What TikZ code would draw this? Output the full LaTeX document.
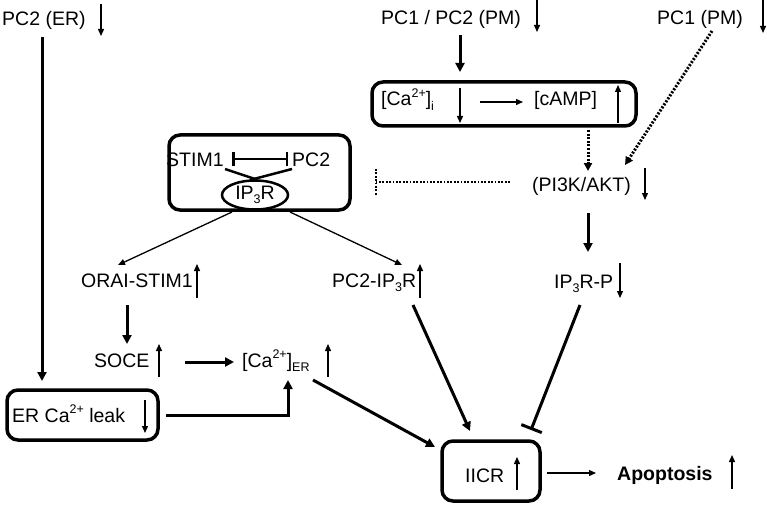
\documentclass[tikz,border=0pt]{standalone}
\usepackage{fontspec}
\setmainfont{Liberation Sans}
\usetikzlibrary{arrows.meta,shapes.geometric,calc}
\newcommand{\mysub}[1]{\raisebox{-0.22em}{\fontsize{12.5}{13}\selectfont #1}}
\newcommand{\mysup}[1]{\raisebox{0.42em}{\fontsize{12.5}{13}\selectfont #1}}
\begin{document}
\begin{tikzpicture}[x=1pt,y=-1pt,
 txt/.style={inner sep=0pt, anchor=base west, font=\fontsize{19.5}{23}\selectfont},
 thn/.style={line width=1.3pt,-{Triangle[length=7pt,width=6pt]}},
 thk/.style={line width=3pt,-{Triangle[length=9pt,width=9pt]}},
 ind/.style={line width=1.3pt,-{Triangle[length=7pt,width=6pt]}},
 rbox/.style={draw,line width=3.5pt,rounded corners=11pt,inner sep=0pt},
 dots/.style={line width=3pt,dash pattern=on 2pt off 1.6pt},
]
\useasboundingbox (0,0) rectangle (767,505);

% boxes
\node[rbox, minimum width=264pt, minimum height=44pt] (cabox) at (504,104) {};
\node[rbox, minimum width=181pt, minimum height=75pt] (stimbox) at (259.5,172.5) {};
\node[rbox, minimum width=151pt, minimum height=50pt] (erleak) at (82.5,415) {};
\node[rbox, minimum width=98pt, minimum height=60pt] (iicrbox) at (491,471) {};

% texts
\node[txt] (pc2er) at (2,26) {PC2 (ER)};
\node[txt] (pc1pc2) at (381,25) {PC1 / PC2 (PM)};
\node[txt] (pc1) at (657,25) {PC1 (PM)};
\node[txt] (cai) at (381,106) {[Ca\mysup{2+}]\mysub{i}};
\node[txt] (camp) at (534,106) {[cAMP]};
\node[txt] (stim1) at (166,167) {STIM1};
\node[txt] (pc2) at (292,167) {PC2};
\node[draw, ellipse, line width=2.5pt, minimum width=66pt, minimum height=29pt, inner sep=0pt,
      font=\fontsize{19.5}{23}\selectfont] (ip3r) at (255,195) {IP\mysub{3}R};
\node[txt] (pi3k) at (532,191) {(PI3K/AKT)};
\node[txt] (orai) at (81,287) {ORAI-STIM1};
\node[txt] (pc2ip3r) at (332,287) {PC2-IP\mysub{3}R};
\node[txt] (ip3rp) at (554,288) {IP\mysub{3}R-P};
\node[txt] (soce) at (94,367) {SOCE};
\node[txt] (caer) at (242,367) {[Ca\mysup{2+}]\mysub{ER}};
\node[txt] (leak) at (12,422) {ER Ca\mysup{2+} leak};
\node[txt] (iicr) at (465,482) {IICR};
\node[txt, font=\fontsize{19.5}{23}\selectfont\bfseries] (apop) at (617,480) {Apoptosis};

% indicator arrows
\draw[ind] (101,4) -- (101,36);
\draw[ind] (537,0) -- (537,32);
\draw[ind] (763,0) -- (763,33);
\draw[ind] (460,88) -- (460,123);
\draw[ind] (618,123) -- (618,85);
\draw[ind] (645,168) -- (645,200);
\draw[ind] (197,298) -- (197,264);
\draw[ind] (420,298) -- (420,264);
\draw[ind] (620,263) -- (620,298);
\draw[ind] (159,377) -- (159,344);
\draw[ind] (328,377) -- (328,344);
\draw[ind] (145,400) -- (145,433);
\draw[ind] (517,490) -- (517,457);
\draw[ind] (732,489) -- (732,455);

% coordinates for connector ends
\coordinate (a1) at (42,37);
\coordinate (a1e) at (42,381);
\coordinate (a2) at (460,35);
\coordinate (a2e) at (460,72);
\coordinate (a3) at (480,102);
\coordinate (a4) at (523,102);
\coordinate (d1s) at (588,130);
\coordinate (d1e) at (588,171);
\coordinate (d2s) at (712,31);
\coordinate (d2e) at (625,165);
\coordinate (inhs) at (510,182);
\coordinate (inhe) at (376,182);
\coordinate (inht) at (376,169);
\coordinate (inhb) at (376,195);
\coordinate (b1) at (588,213);
\coordinate (b2) at (588,252);
\coordinate (s1) at (232,212);
\coordinate (s2) at (118,265);
\coordinate (s3) at (290,212);
\coordinate (s4) at (402,265);
\coordinate (o1) at (127,305);
\coordinate (o2) at (127,344);
\coordinate (e1) at (185,362);
\coordinate (e2) at (234,362);
\coordinate (l1) at (166,415);
\coordinate (l2) at (288,415);
\coordinate (l3) at (288,380);
\coordinate (c1) at (313,380);
\coordinate (c2) at (435,447);
\coordinate (p1) at (413,305);
\coordinate (p2) at (470,431);
\coordinate (r1) at (580,305);
\coordinate (r2) at (531,430);
\coordinate (x1) at (547,473);
\coordinate (x2) at (596,473);
\coordinate (t1) at (225,169);
\coordinate (t2) at (258,180);
\coordinate (t3) at (292,169);
\coordinate (t4) at (250,180);
\coordinate (h1) at (232,159);
\coordinate (h2) at (288,159);

% connectors
\draw[thk] (a1) -- (a1e);
\draw[thk] (a2) -- (a2e);
\draw[thn] (a3) -- (a4);
\draw[dots,-{Triangle[length=8pt,width=8pt]}] (d1s) -- (d1e);
\draw[dots,-{Triangle[length=8pt,width=8pt]}] (d2s) -- (d2e);
\draw[line width=2.5pt,dash pattern=on 1.8pt off 1.6pt] (inhs) -- (inhe);
\draw[line width=2.5pt,dash pattern=on 1.8pt off 1.6pt] (inht) -- (inhb);
\draw[thk] (b1) -- (b2);
\draw[thn] (s1) -- (s2);
\draw[thn] (s3) -- (s4);
\draw[thk] (o1) -- (o2);
\draw[thk] (e1) -- (e2);
\draw[thk] (l1) -- (l2) -- (l3);
\draw[thk] (c1) -- (c2);
\draw[thk] (p1) -- (p2);
\draw[line width=3pt,-{Bar[width=22pt,line width=3pt]}] (r1) -- (r2);
\draw[thn] (x1) -- (x2);
\draw[line width=2.5pt] (t1) -- (t2);
\draw[line width=2.5pt] (t3) -- (t4);
\draw[line width=2.5pt,{Bar[width=14pt]}-{Bar[width=14pt]}] (h1) -- (h2);
\end{tikzpicture}
\end{document}
